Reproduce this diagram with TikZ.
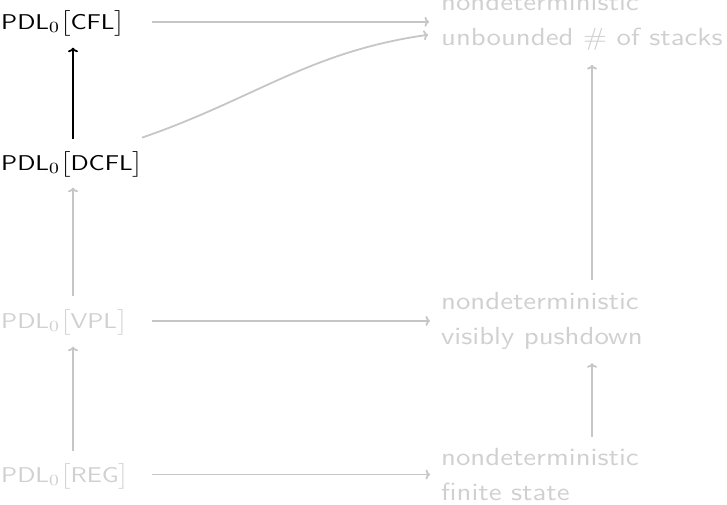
\documentclass[tikz,border=0pt]{standalone}
\usepackage{fix-cm}
\usepackage{amsmath}
\usepackage{graphicx}
\usetikzlibrary{calc,arrows.meta}
\definecolor{lgtext}{RGB}{208,208,208}
\definecolor{lgline}{RGB}{198,198,198}
\newcommand\pdlname[1]{\scalebox{2.3}[1.95]{\fontsize{10.95}{13.6}\selectfont\sffamily PDL$_0\big[$#1$\big]$}}
\newcommand\twolines[2]{\scalebox{2.88}[2.48]{\fontsize{10}{14.5}\selectfont\sffamily\vtop{\hbox{#1}\hbox{#2}}}}
\tikzset{
  lbl/.style={inner sep=0pt, anchor=base west},
  glbl/.style={lbl, text=lgtext},
  rlbl/.style={inner sep=0pt, anchor=base west, text=lgtext},
  garr/.style={-{To[width=10pt,length=4.5pt]}, draw=lgline, line width=1.8pt},
  barr/.style={-{To[width=10pt,length=4.5pt]}, draw=black, line width=1.8pt},
}
\begin{document}
\begin{tikzpicture}[x=1pt,y=-1pt]
\useasboundingbox (0,0) rectangle (727,504);
% left column
\node[lbl]  (cfl)  at (1,29)  {\pdlname{CFL}};
\node[lbl]  (dcfl) at (1,170) {\pdlname{DCFL}};
\node[glbl] (vpl)  at (1,328) {\pdlname{VPL}};
\node[glbl] (reg)  at (1,482) {\pdlname{REG}};
% right column
\node[rlbl] (top) at (441,10)  {\twolines{nondeterministic}{unbounded $\#$ of stacks}};
\node[rlbl] (vp)  at (441,309) {\twolines{nondeterministic}{visibly pushdown}};
\node[rlbl] (fs)  at (441,465) {\twolines{nondeterministic}{finite state}};
% horizontal arrows
\draw[garr, shorten <=151pt, shorten >=12pt] (cfl.west |- top.west) -- (top.west);
\draw[garr, shorten <=151pt, shorten >=11pt] (vpl.west |- vp.west) -- (vp.west);
\draw[garr, shorten <=151pt, shorten >=11pt] (reg.west |- fs.west) -- (fs.west);
% curve
\draw[garr] ($(dcfl.north west)+(141,-14)$) .. controls ($(dcfl.north west)+(254,-53)$) and ($(top.west)+(-132,30)$) .. ($(top.west)+(-13,13)$);
% vertical arrows left
\draw[barr, shorten <=13pt, shorten >=11pt] ($(dcfl.north west)+(72,0)$) -- ($(cfl.south west)+(72,0)$);
\draw[garr, shorten <=14pt, shorten >=10pt] ($(vpl.north west)+(72,0)$) -- ($(dcfl.south west)+(72,0)$);
\draw[garr, shorten <=13pt, shorten >=11pt] ($(reg.north west)+(72,0)$) -- ($(vpl.south west)+(72,0)$);
% vertical arrows right
\draw[garr, shorten <=11pt, shorten >=13pt] ($(fs.north west)+(151,0)$) -- ($(vp.south west)+(151,0)$);
\draw[garr, shorten <=12pt, shorten >=14pt] ($(vp.north west)+(151,0)$) -- ($(top.south west)+(151,0)$);
\end{tikzpicture}
\end{document}
